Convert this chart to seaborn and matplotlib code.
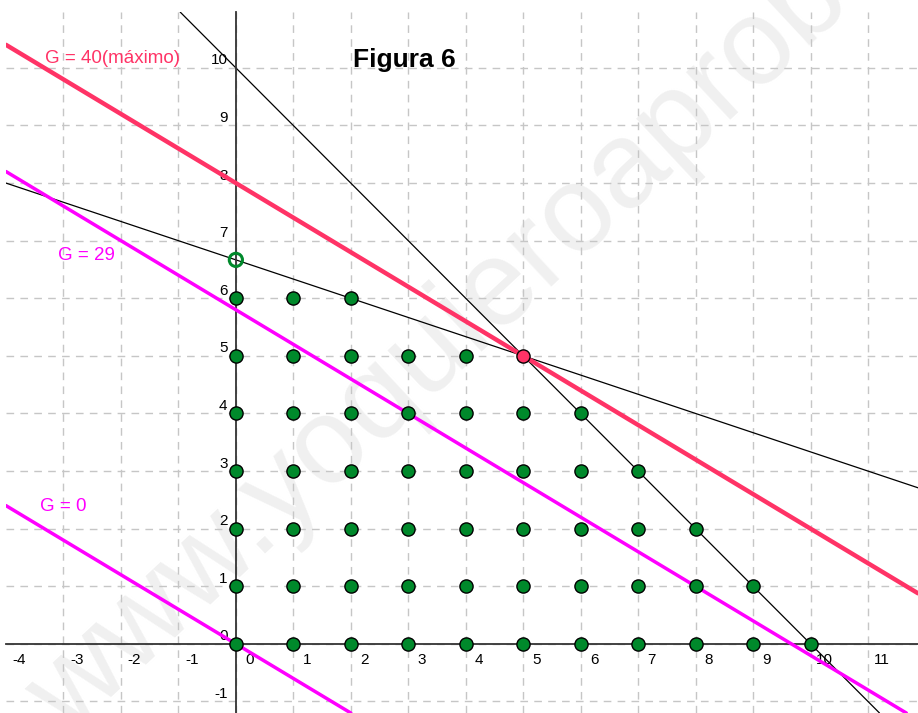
import matplotlib
matplotlib.use('Agg')
import matplotlib.pyplot as plt
import matplotlib.transforms as mtransforms
import pandas as pd
import seaborn as sns

# puntos enteros de la region factible, fila a fila (y fijo)
filas_y = [0, 1, 2, 3, 4, 5, 6]
filas_x = [
    [0, 1, 2, 3, 4, 5, 6, 7, 8, 9, 10],
    [0, 1, 2, 3, 4, 5, 6, 7, 8, 9],
    [0, 1, 2, 3, 4, 5, 6, 7, 8],
    [0, 1, 2, 3, 4, 5, 6, 7],
    [0, 1, 2, 3, 4, 5, 6],
    [0, 1, 2, 3, 4],
    [0, 1, 2],
]
optimo_x = [5]
optimo_y = [5]
abierto_x = [0]
abierto_y = [20 / 3]

# restricciones a*x + b*y = c
restricciones = [(1, 1, 10), (1, 3, 20)]
# funcion objetivo 3x + 5y = G
valores_G = [40, 29, 0]
etiquetas_G = ['G = 40(máximo)', 'G = 29', 'G = 0']

ticks_x = [-4, -3, -2, -1, 0, 1, 2, 3, 4, 5, 6, 7, 8, 9, 10, 11]
ticks_y = [-1, 0, 1, 2, 3, 4, 5, 6, 7, 8, 9, 10]

colores_G = ['#ff3366', '#ff00ff', '#ff00ff']
grosor_G = [3.2, 2.5, 2.5]
pos_etiquetas = [(-3.32, 10.17), (-3.10, 6.75), (-3.41, 2.38)]

sns.set_theme(style='white')
plt.rcParams['font.family'] = ['Liberation Sans', 'DejaVu Sans']

fig = plt.figure(figsize=(9.18, 7.13), dpi=100)
ax = fig.add_axes([6 / 918, 0, 912 / 918, 701 / 713])
ax.set_xlim(-4, 11.87)
ax.set_ylim(-1.2, 10.97)

# ejes cartesianos por el origen
for s in ['top', 'right']:
    ax.spines[s].set_visible(False)
for s in ['left', 'bottom']:
    ax.spines[s].set_position(('data', 0))
    ax.spines[s].set_color('#333333')
    ax.spines[s].set_linewidth(1.3)

ax.set_xticks(ticks_x)
ax.set_xticklabels([str(t) for t in ticks_x])
ax.set_yticks(ticks_y)
ax.set_yticklabels([str(t) for t in ticks_y])
ax.tick_params(direction='out', length=3.5, width=1.2, color='#333333',
               labelsize=11, labelcolor='black')
ax.tick_params(axis='x', pad=3)
ax.tick_params(axis='y', pad=2.5)

dx = mtransforms.ScaledTranslation(13.5 / 100, 0, fig.dpi_scale_trans)
for lab in ax.get_xticklabels():
    lab.set_transform(lab.get_transform() + dx)
dy = mtransforms.ScaledTranslation(0, 9 / 100, fig.dpi_scale_trans)
for lab in ax.get_yticklabels():
    lab.set_transform(lab.get_transform() + dy)

ax.grid(True, color='#c6c6c6', linestyle=(0, (5.5, 4.5)), linewidth=1.0)
ax.set_axisbelow(True)
# la linea de x=-4 queda en el borde, no se ve en el original
ax.get_xgridlines()[0].set_visible(False)

# marca de agua, por debajo de la cuadricula
ax.text(0.585, 0.64, 'www.yoquieroaprobar.es', transform=fig.transFigure,
        fontsize=88, rotation=43, rotation_mode='anchor', ha='center',
        va='center', color='#f0f0f0', zorder=0.1)

for a, b, c in restricciones:
    ax.axline((0, c / b), slope=-a / b, color='black', linewidth=0.9, zorder=2)

for G, col, lw in zip(valores_G, colores_G, grosor_G):
    ax.axline((0, G / 5), slope=-3 / 5, color=col, linewidth=lw, zorder=3)

for (tx, ty), txt, col in zip(pos_etiquetas, etiquetas_G, colores_G):
    ax.text(tx, ty, txt, color=col, fontsize=13.5, ha='left', va='center')

ax.text(2.04, 10.14, 'Figura 6', fontsize=19, fontweight='bold',
        ha='left', va='center', color='black')

puntos = pd.DataFrame({
    'x': [x for xs in filas_x for x in xs],
    'y': [y for y, xs in zip(filas_y, filas_x) for _ in xs],
})
sns.scatterplot(data=puntos, x='x', y='y', color='#00892b', s=90,
                edgecolor='black', linewidth=1, zorder=5, ax=ax, legend=False)
sns.scatterplot(x=optimo_x, y=optimo_y, color='#ff3366', s=90,
                edgecolor='black', linewidth=1, zorder=6, ax=ax, legend=False)
ax.scatter(abierto_x, abierto_y, s=90, facecolor='none', edgecolor='#00892b',
           linewidth=2.2, zorder=6)

ax.set_xlabel('')
ax.set_ylabel('')

fig.savefig('out.png', dpi=100)
